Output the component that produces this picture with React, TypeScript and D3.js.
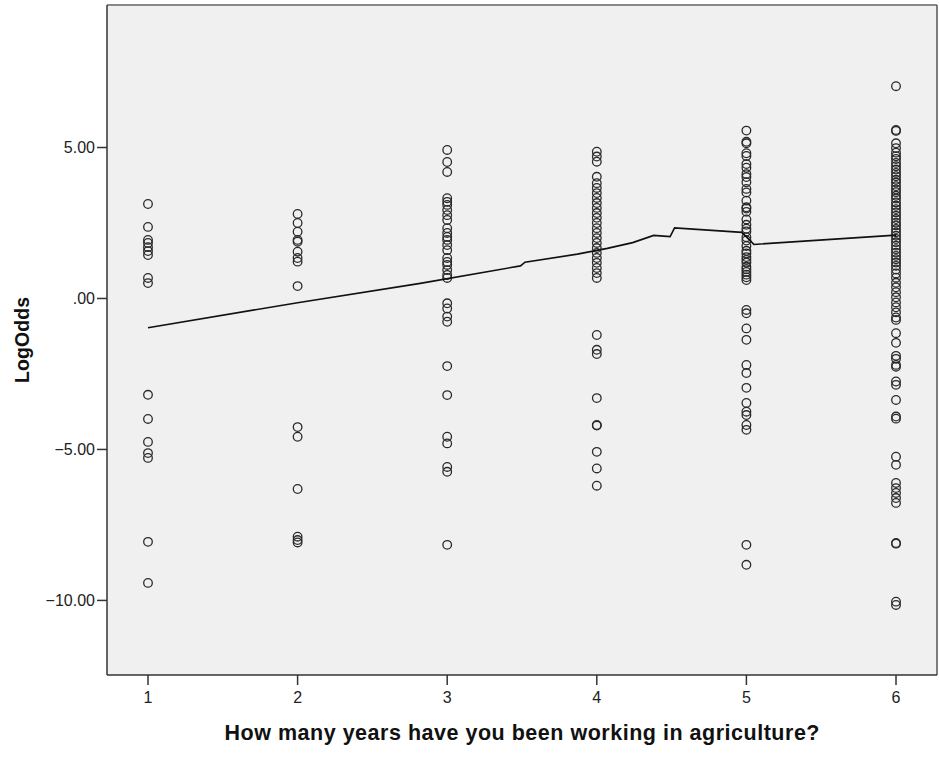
import React from "react";
import * as d3 from "d3";

// Observed log-odds for each response category (years working in agriculture)
const years = [1, 2, 3, 4, 5, 6];

const logOdds1 = [3.13, 2.37, 1.94, 1.84, 1.7, 1.57, 1.44, 0.68, 0.51, -3.19, -3.99, -4.75, -5.12, -5.28, -8.06, -9.42];

const logOdds2 = [2.8, 2.5, 2.21, 1.94, 1.88, 1.55, 1.34, 1.22, 0.41, -4.26, -4.58, -6.31, -7.89, -8.0, -8.08];

const logOdds3 = [
  4.92, 4.52, 4.19, 3.32, 3.2, 3.1, 2.93, 2.76, 2.6, 2.33, 2.17, 2.04, 1.94, 1.77, 1.6, 1.34, 1.21, 1.11,
  0.94, 0.78, 0.68, -0.16, -0.33, -0.6, -0.77, -2.24, -3.2, -4.58, -4.8, -5.58, -5.74, -8.16,
];

const logOdds4 = [
  4.86, 4.7, 4.53, 4.03, 3.82, 3.66, 3.49, 3.33, 3.16, 3.0, 2.83, 2.67, 2.5, 2.33, 2.17, 2.0, 1.84, 1.67,
  1.51, 1.34, 1.18, 1.01, 0.84, 0.68, -1.21, -1.7, -1.84, -3.3, -4.19, -4.21, -5.08, -5.63, -6.2,
];

const logOdds5 = [
  5.56, 5.19, 5.14, 4.81, 4.72, 4.45, 4.33, 4.12, 4.02, 3.85, 3.63, 3.51, 3.24, 3.02, 2.98, 2.87, 2.62,
  2.44, 2.31, 2.22, 2.03, 1.92, 1.74, 1.58, 1.49, 1.37, 1.28, 1.19, 1.05, 0.97, 0.88, 0.79, 0.7, 0.61,
  -0.38, -0.49, -0.99, -1.37, -2.2, -2.47, -2.96, -3.46, -3.75, -3.86, -4.19, -4.35, -8.16, -8.82,
];

const logOdds6 = [
  7.03, 5.58, 5.55, 5.14, 4.98, 4.83, 4.71, 4.62, 4.49, 4.38, 4.27, 4.16, 4.05, 3.93, 3.84, 3.72, 3.61,
  3.52, 3.4, 3.31, 3.18, 3.07, 2.96, 2.85, 2.74, 2.63, 2.51, 2.42, 2.3, 2.19, 2.08, 1.97, 1.86, 1.75,
  1.63, 1.52, 1.41, 1.3, 1.19, 1.08, 0.96, 0.83, 0.69, 0.52, 0.37, 0.21, 0.04, -0.13, -0.29, -0.46,
  -0.63, -0.71, -1.15, -1.47, -1.9, -2.0, -2.2, -2.26, -2.75, -2.86, -3.36, -3.91, -3.98, -5.24, -5.51,
  -6.11, -6.28, -6.44, -6.61, -6.77, -8.1, -8.12, -10.04, -10.15,
];

const logOddsByYear = [logOdds1, logOdds2, logOdds3, logOdds4, logOdds5, logOdds6];

// Fitted log-odds curve
const fitX = [1.0, 2.0, 2.82, 3.49, 3.52, 3.87, 4.07, 4.24, 4.38, 4.49, 4.52, 4.97, 5.05, 6.0];
const fitY = [-0.97, -0.14, 0.5, 1.08, 1.2, 1.47, 1.66, 1.85, 2.09, 2.05, 2.34, 2.19, 1.79, 2.1];

const yTicks = [5, 0, -5, -10];
const xTitle = "How many years have you been working in agriculture?";
const yTitle = "LogOdds";

const W = 939;
const H = 762;
const plot = { left: 107, top: 5, right: 937, bottom: 675 };

export default function App() {
  const x = d3
    .scaleLinear()
    .domain([0.726, 6.274])
    .range([plot.left, plot.right]);
  const y = d3
    .scaleLinear()
    .domain([-12.47, 9.72])
    .range([plot.bottom, plot.top]);

  const points = logOddsByYear.flatMap((vals, i) =>
    vals.map((v) => ({ xv: years[i], yv: v }))
  );

  const line = d3
    .line<number>()
    .x((_, i) => x(fitX[i]))
    .y((d) => y(d));

  const fmt = (v: number) => (v === 0 ? ".00" : d3.format(".2f")(v));
  const font = "'Liberation Sans', Arial, sans-serif";

  return (
    <svg
      width={W}
      height={H}
      style={{ position: "absolute", left: 0, top: 0, background: "#fff" }}
      fontFamily={font}
    >
      <rect
        x={plot.left}
        y={plot.top}
        width={plot.right - plot.left}
        height={plot.bottom - plot.top}
        fill="#f0f0f0"
        stroke="none"
      />
      {points.map((p, i) => (
        <circle
          key={i}
          cx={x(p.xv)}
          cy={y(p.yv)}
          r={4.3}
          fill="none"
          stroke="#2a2a2a"
          strokeWidth={1.3}
        />
      ))}
      <path d={line(fitY) ?? ""} fill="none" stroke="#111" strokeWidth={1.6} />
      {/* frame */}
      <line x1={plot.left} x2={plot.right} y1={plot.top} y2={plot.top} stroke="#888" strokeWidth={2} />
      <line x1={plot.right} x2={plot.right} y1={plot.top} y2={plot.bottom} stroke="#555" strokeWidth={1.5} />
      <line x1={plot.left} x2={plot.left} y1={plot.top} y2={plot.bottom} stroke="#333" strokeWidth={1.5} />
      <line x1={plot.left} x2={plot.right} y1={plot.bottom} y2={plot.bottom} stroke="#333" strokeWidth={1.5} />
      {/* y axis */}
      {yTicks.map((t) => (
        <g key={t}>
          <line x1={plot.left - 10} x2={plot.left} y1={y(t)} y2={y(t)} stroke="#333" strokeWidth={1.5} />
          <text x={plot.left - 12} y={y(t)} dy="0.36em" textAnchor="end" fontSize={16} fill="#222">
            {fmt(t)}
          </text>
        </g>
      ))}
      {/* x axis */}
      {years.map((t) => (
        <g key={t}>
          <line x1={x(t)} x2={x(t)} y1={plot.bottom} y2={plot.bottom + 10} stroke="#333" strokeWidth={1.5} />
          <text x={x(t)} y={plot.bottom + 28} textAnchor="middle" fontSize={16} fill="#222">
            {t}
          </text>
        </g>
      ))}
      <text
        x={522}
        y={740}
        textAnchor="middle"
        fontSize={21.5}
        fontWeight="bold"
        fill="#111"
        textLength={595}
        lengthAdjust="spacing"
      >
        {xTitle}
      </text>
      <text
        transform={`translate(29, 340) rotate(-90)`}
        textAnchor="middle"
        fontSize={19.5}
        fontWeight="bold"
        fill="#111"
        textLength={86}
        lengthAdjust="spacing"
      >
        {yTitle}
      </text>
    </svg>
  );
}
